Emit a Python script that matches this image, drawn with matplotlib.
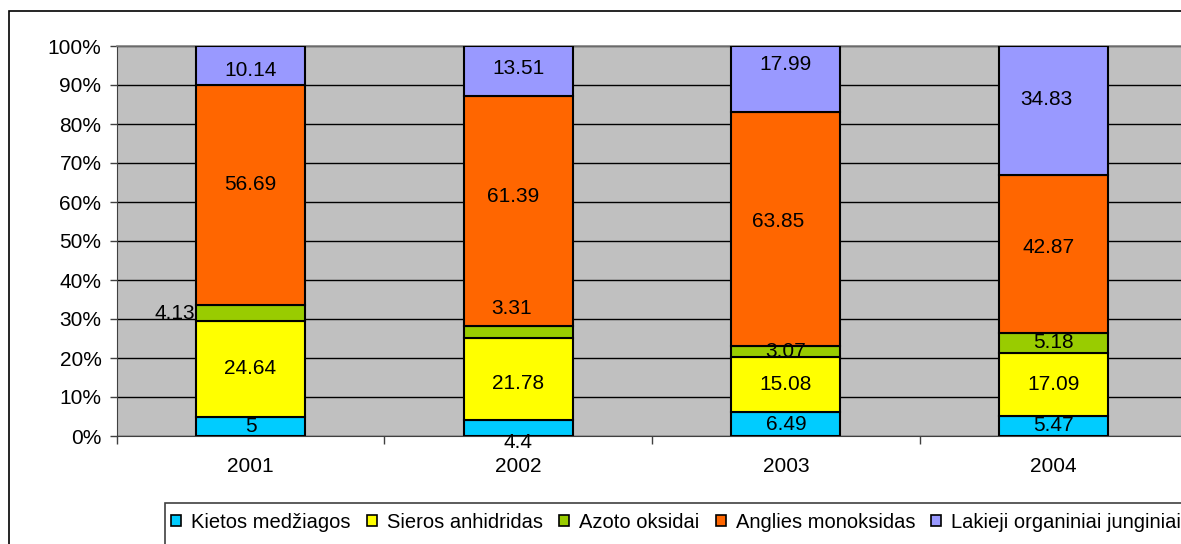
import numpy as np
import matplotlib
matplotlib.use("Agg")
import matplotlib.pyplot as plt
from matplotlib.patches import Rectangle
from matplotlib.ticker import PercentFormatter

plt.rcParams['font.family'] = ['Liberation Sans', 'DejaVu Sans']

years = ['2001', '2002', '2003', '2004']
series_names = ['Kietos medžiagos', 'Sieros anhidridas', 'Azoto oksidai',
                'Anglies monoksidas', 'Lakieji organiniai junginiai']
kietos = [5, 4.4, 6.49, 5.47]
sieros = [24.64, 21.78, 15.08, 17.09]
azoto = [4.13, 3.31, 3.07, 5.18]
anglies = [56.69, 61.39, 63.85, 42.87]
lakieji = [10.14, 13.51, 17.99, 34.83]

colours = ['#00CCFF', '#FFFF00', '#99CC00', '#FF6600', '#9999FF']
series = np.array([kietos, sieros, azoto, anglies, lakieji], dtype=float)

# every column is scaled to 100 %
pct = series / series.sum(axis=0) * 100

# hand-placed labels: (series, year) -> (dx in category units, dy in % points)
nudges = {
    (4, 0): (0, -1.3), (3, 0): (0, 2.8),
    (4, 1): (0, 0.8), (3, 1): (-0.02, 3.8), (1, 1): (0, -1.3), (2, 1): (-0.026, 0),
    (4, 2): (0, 3.8), (3, 2): (-0.03, 1.8),
    (4, 3): (-0.026, 2.8), (3, 3): (-0.02, 1.8),
}

fs = 15
fig = plt.figure(figsize=(11.81, 5.44), dpi=100)

W, H = 1181, 544
def fx(px):
    return px / W
def fy(py):
    return 1 - py / H

# outer chart frame (runs off the right and bottom edges)
fig.patches.append(Rectangle((fx(9), -0.2), 2, fy(11) + 0.2, transform=fig.transFigure,
                             fill=False, edgecolor='black', linewidth=1.2, zorder=0))

ax = fig.add_axes([fx(116.7), fy(436), 4 * 267.7 / W, (436 - 46) / H])
ax.set_facecolor('#C0C0C0')

x = np.arange(len(years))
bottom = np.zeros(len(years))
bar_w = 0.407
for i, (name, col) in enumerate(zip(series_names, colours)):
    ax.bar(x, pct[i], bar_w, bottom=bottom, color=col, edgecolor='black',
           linewidth=1.5, label=name, zorder=3)
    for j in range(len(years)):
        dx, dy = nudges.get((i, j), (0, 0))
        ly = bottom[j] + pct[i][j] / 2 + dy
        lx = x[j] + dx
        ha = 'center'
        if i == 2 and j == 0:
            lx, ha = x[j] - bar_w / 2 - 0.005, 'right'
        if i == 2 and j == 1:
            ly = bottom[j] + pct[i][j] + 4.5
        if i == 0 and j == 1:
            ly = -1.6
        ax.text(lx, ly, f'{series[i][j]:g}', ha=ha, va='center', fontsize=fs,
                zorder=4, clip_on=False)
    bottom += pct[i]

ax.set_xlim(-0.5, 3.5)
ax.set_ylim(0, 100)
ax.set_yticks(np.arange(0, 101, 10))
ax.yaxis.set_major_formatter(PercentFormatter(decimals=0))
ax.grid(axis='y', color='black', linewidth=1, zorder=1)
ax.set_axisbelow(True)

ax.set_xticks(x)
ax.set_xticklabels(years)
ax.set_xticks(np.arange(-0.5, 4.0, 1), minor=True)
ax.tick_params(axis='x', which='major', length=0, pad=15, labelsize=fs)
ax.tick_params(axis='x', which='minor', length=6, width=1, color='#404040')
ax.tick_params(axis='y', length=5, width=1, color='#404040', pad=6, labelsize=fs)

for side in ['top', 'right']:
    ax.spines[side].set_color('#808080')
    ax.spines[side].set_linewidth(1.2)
ax.spines['left'].set_color('#404040')
ax.spines['bottom'].set_color('#404040')

# legend box drawn by hand so that it can run off the page
fig.patches.append(Rectangle((fx(165), -0.2), 2, fy(503) + 0.2, transform=fig.transFigure,
                             fill=False, edgecolor='#404040', linewidth=1.2, zorder=0))
handles, labels = ax.get_legend_handles_labels()
leg = fig.legend(handles, labels, loc='center left', bbox_to_anchor=(fx(171), fy(522)),
                 ncol=5, frameon=False, fontsize=14.5, handlelength=0.5, handleheight=0.5,
                 handletextpad=0.5, columnspacing=0.8, borderpad=0, borderaxespad=0)
for h in leg.legend_handles:
    h.set_linewidth(1.2)

fig.savefig('out.png', dpi=100)
